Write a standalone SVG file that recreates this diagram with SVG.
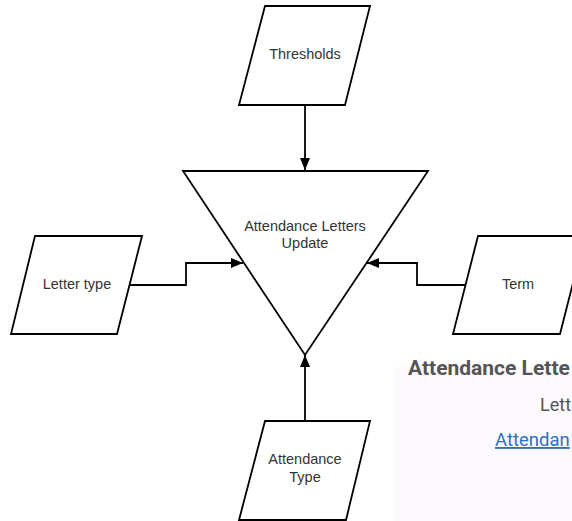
<svg xmlns="http://www.w3.org/2000/svg" width="572" height="521" viewBox="0 0 572 521">
<style>
.shape{fill:#fff;stroke:#000;stroke-width:1.8;stroke-linejoin:miter}
.lbl{font-family:"Liberation Sans",Arial,sans-serif;font-size:14.5px;fill:#333;text-anchor:middle}
.conn{fill:none;stroke:#000;stroke-width:1.8}
</style>
<defs>
<marker id="arr" viewBox="0 0 12 10" refX="12" refY="5" markerWidth="12" markerHeight="10" markerUnits="userSpaceOnUse" orient="auto">
<path d="M0,0 L12,5 L0,10 Z" fill="#000"/>
</marker>
</defs>
<rect width="572" height="521" fill="#fff"/>
<g id="overlay">
<rect x="393" y="367" width="179" height="154" fill="#fdfaff"/>
<text x="408" y="375" font-family="Roboto,'Liberation Sans',sans-serif" font-size="21" font-weight="bold" fill="#555">Attendance Lette</text>
<text x="540" y="411" font-family="Roboto,'Liberation Sans',sans-serif" font-size="18" fill="#555">Lett</text>
<text x="495" y="446" font-family="Roboto,'Liberation Sans',sans-serif" font-size="18.5" fill="#2f6fc0" text-decoration="underline">Attendan</text>
</g>
<g id="connectors">
<path class="conn" d="M129,285 H186 V263 H243" marker-end="url(#arr)"/>
<path class="conn" d="M465,285 H417 V263 H367" marker-end="url(#arr)"/>
<path class="conn" d="M305,105 V170" marker-end="url(#arr)"/>
<path class="conn" d="M305,421 V355" marker-end="url(#arr)"/>
</g>
<g id="thresholds">
<polygon class="shape" points="265,6 370,6 345,105 239,105"/>
<text class="lbl" x="305" y="59">Thresholds</text>
</g>
<g id="update">
<polygon class="shape" points="183,171 428,171 305,355"/>
<text class="lbl" x="305" y="231">Attendance Letters</text>
<text class="lbl" x="305" y="248">Update</text>
</g>
<g id="letter-type">
<polygon class="shape" points="35,236 142,236 117,334 11,334"/>
<text class="lbl" x="77" y="289">Letter type</text>
</g>
<g id="term">
<polygon class="shape" points="478,236 585,236 560,334 453,334"/>
<text class="lbl" x="518" y="289">Term</text>
</g>
<g id="attendance-type">
<polygon class="shape" points="265,421 370,421 346,520 239,520"/>
<text class="lbl" x="305" y="464">Attendance</text>
<text class="lbl" x="305" y="482">Type</text>
</g>
</svg>
